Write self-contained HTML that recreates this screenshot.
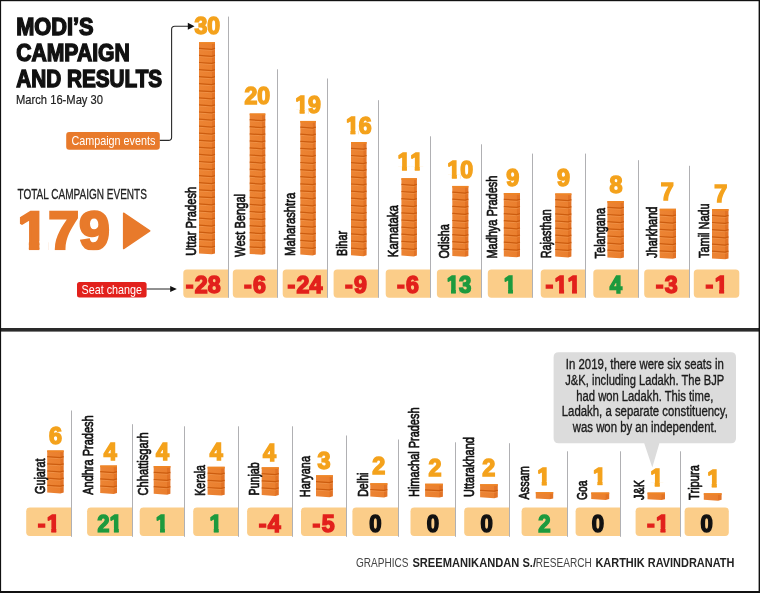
<!DOCTYPE html>
<html lang="en">
<head>
<meta charset="utf-8">
<title>Modi's campaign and results</title>
<style>
html,body{margin:0;padding:0;background:#fff;}
body{width:760px;height:593px;overflow:hidden;font-family:'Liberation Sans', Arial, Helvetica, sans-serif;}
svg{display:block;font-family:'Liberation Sans', Arial, Helvetica, sans-serif;}
text{white-space:pre;}
text.n{font-kerning:none;}
</style>
</head>
<body>
<svg width="760" height="593" viewBox="0 0 760 593">
<defs><linearGradient id="bg" x1="0" x2="1" y1="0" y2="0"><stop offset="0" stop-color="#ec8434"/><stop offset="0.78" stop-color="#ea7f2e"/><stop offset="0.82" stop-color="#e27224"/><stop offset="1" stop-color="#e27428"/></linearGradient></defs>
<rect x="0" y="0" width="760" height="593" fill="#ffffff"/>
<text font-size="24.0" fill="#111111" font-weight="bold" textLength="77.4" lengthAdjust="spacingAndGlyphs" stroke="#111111" stroke-width="1.4" stroke-linejoin="miter" stroke-miterlimit="2" x="16.2" y="34.5">MODI’S</text>
<text font-size="24.0" fill="#111111" font-weight="bold" textLength="113.6" lengthAdjust="spacingAndGlyphs" stroke="#111111" stroke-width="1.4" stroke-linejoin="miter" stroke-miterlimit="2" x="16.2" y="61.0">CAMPAIGN</text>
<text font-size="24.0" fill="#111111" font-weight="bold" textLength="146.0" lengthAdjust="spacingAndGlyphs" stroke="#111111" stroke-width="1.4" stroke-linejoin="miter" stroke-miterlimit="2" x="16.2" y="87.0">AND RESULTS</text>
<text font-size="12.6" fill="#222222" textLength="87.0" lengthAdjust="spacingAndGlyphs" stroke="#222222" stroke-width="0.2" stroke-linejoin="miter" stroke-miterlimit="2" x="16.0" y="104.3">March 16-May 30</text>
<rect x="66.2" y="132" width="93.6" height="17.8" rx="3" fill="#e87a2b"/>
<text font-size="12.8" fill="#ffffff" textLength="84.0" lengthAdjust="spacingAndGlyphs" x="71.4" y="145.0">Campaign events</text>
<path d="M159.8 140.4H168.4Q171.6 140.4 171.6 137.2V29.5Q171.6 26.3 174.8 26.3H189" fill="none" stroke="#2a2a2a" stroke-width="1.1"/>
<path d="M187.8 22.8L194.5 26.3L187.8 29.8Z" fill="#111111"/>
<text font-size="14.0" fill="#222222" textLength="129.4" lengthAdjust="spacingAndGlyphs" stroke="#222222" stroke-width="0.3" stroke-linejoin="miter" stroke-miterlimit="2" x="17.5" y="198.7">TOTAL CAMPAIGN EVENTS</text>
<clipPath id="k1"><rect x="13.4" y="195.9" width="100.4" height="45.39"/><rect x="28.88" y="241.19" width="10.50" height="9.01"/><rect x="48.20" y="241.19" width="30.80" height="9.01"/><rect x="79.00" y="241.19" width="30.80" height="9.01"/></clipPath>
<text font-size="53.0" fill="#e87a2b" font-weight="bold" textLength="92.4" lengthAdjust="spacingAndGlyphs" stroke="#e87a2b" stroke-width="2.6" stroke-linejoin="miter" stroke-miterlimit="2" x="17.4" y="248.9" clip-path="url(#k1)" class="n">179</text>
<path d="M123.6 213.2L149.8 230.8L123.6 248.6Z" fill="#e87a2b" stroke="#e87a2b" stroke-width="1.4" stroke-linejoin="round"/>
<rect x="77" y="282" width="69.6" height="15.6" rx="2.5" fill="#e2211c"/>
<text font-size="12.4" fill="#ffffff" textLength="60.4" lengthAdjust="spacingAndGlyphs" x="81.6" y="293.5">Seat change</text>
<path d="M146.6 289H171" fill="none" stroke="#222222" stroke-width="1"/>
<path d="M170.2 286.0L176.8 289L170.2 292.0Z" fill="#111111"/>
<path d="M186.9 269.4H228.2V297.7H186.9Q183.3 297.7 183.3 294.1V273.0Q183.3 269.4 186.9 269.4Z" fill="#fbcd89"/>
<rect x="228" y="16.6" width="1" height="281.2" fill="#b0b0b3"/>
<path d="M199.0 42.2H215.0V253.4L211.8 254.3L199.0 253.4Z" fill="url(#bg)"/>
<rect x="199.0" y="42.2" width="16.0" height="1.7" fill="#ef8626"/>
<path d="M199.0 49.5L211.8 50.4L215.0 49.5M199.0 56.5L211.8 57.4L215.0 56.5M199.0 63.6L211.8 64.5L215.0 63.6M199.0 70.7L211.8 71.6L215.0 70.7M199.0 77.8L211.8 78.7L215.0 77.8M199.0 84.8L211.8 85.7L215.0 84.8M199.0 91.9L211.8 92.8L215.0 91.9M199.0 99.0L211.8 99.9L215.0 99.0M199.0 106.0L211.8 106.9L215.0 106.0M199.0 113.1L211.8 114.0L215.0 113.1M199.0 120.2L211.8 121.1L215.0 120.2M199.0 127.2L211.8 128.1L215.0 127.2M199.0 134.3L211.8 135.2L215.0 134.3M199.0 141.4L211.8 142.3L215.0 141.4M199.0 148.4L211.8 149.3L215.0 148.4M199.0 155.5L211.8 156.4L215.0 155.5M199.0 162.6L211.8 163.5L215.0 162.6M199.0 169.7L211.8 170.6L215.0 169.7M199.0 176.7L211.8 177.6L215.0 176.7M199.0 183.8L211.8 184.7L215.0 183.8M199.0 190.9L211.8 191.8L215.0 190.9M199.0 197.9L211.8 198.8L215.0 197.9M199.0 205.0L211.8 205.9L215.0 205.0M199.0 212.1L211.8 213.0L215.0 212.1M199.0 219.2L211.8 220.1L215.0 219.2M199.0 226.2L211.8 227.1L215.0 226.2M199.0 233.3L211.8 234.2L215.0 233.3M199.0 240.4L211.8 241.3L215.0 240.4M199.0 247.4L211.8 248.3L215.0 247.4" fill="none" stroke="#f3a05a" stroke-width="0.9" opacity="0.55"/>
<path d="M199.0 48.4L211.8 49.3L215.0 48.4M199.0 55.4L211.8 56.3L215.0 55.4M199.0 62.5L211.8 63.4L215.0 62.5M199.0 69.6L211.8 70.5L215.0 69.6M199.0 76.7L211.8 77.6L215.0 76.7M199.0 83.7L211.8 84.6L215.0 83.7M199.0 90.8L211.8 91.7L215.0 90.8M199.0 97.9L211.8 98.8L215.0 97.9M199.0 104.9L211.8 105.8L215.0 104.9M199.0 112.0L211.8 112.9L215.0 112.0M199.0 119.1L211.8 120.0L215.0 119.1M199.0 126.1L211.8 127.0L215.0 126.1M199.0 133.2L211.8 134.1L215.0 133.2M199.0 140.3L211.8 141.2L215.0 140.3M199.0 147.3L211.8 148.2L215.0 147.3M199.0 154.4L211.8 155.3L215.0 154.4M199.0 161.5L211.8 162.4L215.0 161.5M199.0 168.6L211.8 169.5L215.0 168.6M199.0 175.6L211.8 176.5L215.0 175.6M199.0 182.7L211.8 183.6L215.0 182.7M199.0 189.8L211.8 190.7L215.0 189.8M199.0 196.8L211.8 197.7L215.0 196.8M199.0 203.9L211.8 204.8L215.0 203.9M199.0 211.0L211.8 211.9L215.0 211.0M199.0 218.1L211.8 219.0L215.0 218.1M199.0 225.1L211.8 226.0L215.0 225.1M199.0 232.2L211.8 233.1L215.0 232.2M199.0 239.3L211.8 240.2L215.0 239.3M199.0 246.3L211.8 247.2L215.0 246.3" fill="none" stroke="#c9590c" stroke-width="1.25" opacity="0.92"/>
<text font-size="23.2" fill="#f4a21c" font-weight="bold" textLength="25.7" lengthAdjust="spacingAndGlyphs" text-anchor="middle" stroke="#f4a21c" stroke-width="1.5" stroke-linejoin="miter" stroke-miterlimit="2" x="207.3" y="33.8" class="n">30</text>
<text font-size="14.0" fill="#111111" textLength="69.0" lengthAdjust="spacingAndGlyphs" stroke="#111111" stroke-width="0.7" stroke-linejoin="round" stroke-miterlimit="2" transform="translate(195.6 255.8) rotate(-90)">Uttar Pradesh</text>
<text x="185.7" y="293.1" font-size="23.2" fill="#e2211c" font-weight="bold" stroke="#e2211c" stroke-width="1.5" stroke-linejoin="miter" stroke-miterlimit="2" class="n">-<tspan dx="1.3">28</tspan></text>
<path d="M236.4 269.4H277.2V297.7H236.4Q232.8 297.7 232.8 294.1V273.0Q232.8 269.4 236.4 269.4Z" fill="#fbcd89"/>
<rect x="277" y="69.3" width="1" height="228.5" fill="#b0b0b3"/>
<path d="M249.7 113.5H265.3V253.9L262.2 254.8L249.7 253.9Z" fill="url(#bg)"/>
<rect x="249.7" y="113.5" width="15.6" height="1.7" fill="#ef8626"/>
<path d="M249.7 120.8L262.2 121.7L265.3 120.8M249.7 127.8L262.2 128.7L265.3 127.8M249.7 134.9L262.2 135.8L265.3 134.9M249.7 142.0L262.2 142.9L265.3 142.0M249.7 149.0L262.2 149.9L265.3 149.0M249.7 156.1L262.2 157.0L265.3 156.1M249.7 163.2L262.2 164.1L265.3 163.2M249.7 170.2L262.2 171.1L265.3 170.2M249.7 177.3L262.2 178.2L265.3 177.3M249.7 184.3L262.2 185.2L265.3 184.3M249.7 191.4L262.2 192.3L265.3 191.4M249.7 198.5L262.2 199.4L265.3 198.5M249.7 205.5L262.2 206.4L265.3 205.5M249.7 212.6L262.2 213.5L265.3 212.6M249.7 219.7L262.2 220.6L265.3 219.7M249.7 226.7L262.2 227.6L265.3 226.7M249.7 233.8L262.2 234.7L265.3 233.8M249.7 240.9L262.2 241.8L265.3 240.9M249.7 247.9L262.2 248.8L265.3 247.9" fill="none" stroke="#f3a05a" stroke-width="0.9" opacity="0.55"/>
<path d="M249.7 119.7L262.2 120.6L265.3 119.7M249.7 126.7L262.2 127.6L265.3 126.7M249.7 133.8L262.2 134.7L265.3 133.8M249.7 140.9L262.2 141.8L265.3 140.9M249.7 147.9L262.2 148.8L265.3 147.9M249.7 155.0L262.2 155.9L265.3 155.0M249.7 162.1L262.2 163.0L265.3 162.1M249.7 169.1L262.2 170.0L265.3 169.1M249.7 176.2L262.2 177.1L265.3 176.2M249.7 183.2L262.2 184.2L265.3 183.2M249.7 190.3L262.2 191.2L265.3 190.3M249.7 197.4L262.2 198.3L265.3 197.4M249.7 204.4L262.2 205.3L265.3 204.4M249.7 211.5L262.2 212.4L265.3 211.5M249.7 218.6L262.2 219.5L265.3 218.6M249.7 225.6L262.2 226.5L265.3 225.6M249.7 232.7L262.2 233.6L265.3 232.7M249.7 239.8L262.2 240.7L265.3 239.8M249.7 246.8L262.2 247.7L265.3 246.8" fill="none" stroke="#c9590c" stroke-width="1.25" opacity="0.92"/>
<text font-size="23.2" fill="#f4a21c" font-weight="bold" textLength="25.7" lengthAdjust="spacingAndGlyphs" text-anchor="middle" stroke="#f4a21c" stroke-width="1.5" stroke-linejoin="miter" stroke-miterlimit="2" x="257.3" y="104.2" class="n">20</text>
<text font-size="14.0" fill="#111111" textLength="63.0" lengthAdjust="spacingAndGlyphs" stroke="#111111" stroke-width="0.7" stroke-linejoin="round" stroke-miterlimit="2" transform="translate(244.7 256.9) rotate(-90)">West Bengal</text>
<text x="244.0" y="293.1" font-size="23.2" fill="#e2211c" font-weight="bold" stroke="#e2211c" stroke-width="1.5" stroke-linejoin="miter" stroke-miterlimit="2" class="n">-<tspan dx="1.3">6</tspan></text>
<path d="M286.3 269.4H327.2V297.7H286.3Q282.7 297.7 282.7 294.1V273.0Q282.7 269.4 286.3 269.4Z" fill="#fbcd89"/>
<rect x="327" y="78.5" width="1" height="219.3" fill="#b0b0b3"/>
<path d="M300.3 120.9H315.8V254.6L312.7 255.5L300.3 254.6Z" fill="url(#bg)"/>
<rect x="300.3" y="120.9" width="15.5" height="1.7" fill="#ef8626"/>
<path d="M300.3 128.2L312.7 129.1L315.8 128.2M300.3 135.3L312.7 136.2L315.8 135.3M300.3 142.4L312.7 143.3L315.8 142.4M300.3 149.4L312.7 150.3L315.8 149.4M300.3 156.5L312.7 157.4L315.8 156.5M300.3 163.6L312.7 164.5L315.8 163.6M300.3 170.7L312.7 171.6L315.8 170.7M300.3 177.8L312.7 178.7L315.8 177.8M300.3 184.9L312.7 185.8L315.8 184.9M300.3 191.9L312.7 192.8L315.8 191.9M300.3 199.0L312.7 199.9L315.8 199.0M300.3 206.1L312.7 207.0L315.8 206.1M300.3 213.2L312.7 214.1L315.8 213.2M300.3 220.3L312.7 221.2L315.8 220.3M300.3 227.4L312.7 228.3L315.8 227.4M300.3 234.4L312.7 235.3L315.8 234.4M300.3 241.5L312.7 242.4L315.8 241.5M300.3 248.6L312.7 249.5L315.8 248.6" fill="none" stroke="#f3a05a" stroke-width="0.9" opacity="0.55"/>
<path d="M300.3 127.1L312.7 128.0L315.8 127.1M300.3 134.2L312.7 135.1L315.8 134.2M300.3 141.3L312.7 142.2L315.8 141.3M300.3 148.3L312.7 149.2L315.8 148.3M300.3 155.4L312.7 156.3L315.8 155.4M300.3 162.5L312.7 163.4L315.8 162.5M300.3 169.6L312.7 170.5L315.8 169.6M300.3 176.7L312.7 177.6L315.8 176.7M300.3 183.8L312.7 184.7L315.8 183.8M300.3 190.8L312.7 191.7L315.8 190.8M300.3 197.9L312.7 198.8L315.8 197.9M300.3 205.0L312.7 205.9L315.8 205.0M300.3 212.1L312.7 213.0L315.8 212.1M300.3 219.2L312.7 220.1L315.8 219.2M300.3 226.3L312.7 227.2L315.8 226.3M300.3 233.3L312.7 234.2L315.8 233.3M300.3 240.4L312.7 241.3L315.8 240.4M300.3 247.5L312.7 248.4L315.8 247.5" fill="none" stroke="#c9590c" stroke-width="1.25" opacity="0.92"/>
<clipPath id="k2"><rect x="291.2" y="90.0" width="33.7" height="19.18"/><rect x="299.66" y="109.08" width="4.96" height="4.87"/><rect x="308.00" y="109.08" width="12.83" height="4.87"/></clipPath>
<text font-size="23.2" fill="#f4a21c" font-weight="bold" textLength="25.7" lengthAdjust="spacingAndGlyphs" text-anchor="middle" stroke="#f4a21c" stroke-width="1.5" stroke-linejoin="miter" stroke-miterlimit="2" x="308.0" y="113.2" clip-path="url(#k2)" class="n">19</text>
<text font-size="14.0" fill="#111111" textLength="63.2" lengthAdjust="spacingAndGlyphs" stroke="#111111" stroke-width="0.7" stroke-linejoin="round" stroke-miterlimit="2" transform="translate(295.3 256.0) rotate(-90)">Maharashtra</text>
<text x="287.5" y="293.1" font-size="23.2" fill="#e2211c" font-weight="bold" stroke="#e2211c" stroke-width="1.5" stroke-linejoin="miter" stroke-miterlimit="2" class="n">-<tspan dx="1.3">24</tspan></text>
<path d="M337.2 269.4H378.2V297.7H337.2Q333.6 297.7 333.6 294.1V273.0Q333.6 269.4 337.2 269.4Z" fill="#fbcd89"/>
<rect x="378" y="100.2" width="1" height="197.6" fill="#b0b0b3"/>
<path d="M351.0 142.1H366.6V255.3L363.5 256.2L351.0 255.3Z" fill="url(#bg)"/>
<rect x="351.0" y="142.1" width="15.6" height="1.7" fill="#ef8626"/>
<path d="M351.0 149.4L363.5 150.3L366.6 149.4M351.0 156.6L363.5 157.5L366.6 156.6M351.0 163.7L363.5 164.6L366.6 163.7M351.0 170.8L363.5 171.7L366.6 170.8M351.0 178.0L363.5 178.9L366.6 178.0M351.0 185.1L363.5 186.0L366.6 185.1M351.0 192.2L363.5 193.1L366.6 192.2M351.0 199.3L363.5 200.2L366.6 199.3M351.0 206.5L363.5 207.4L366.6 206.5M351.0 213.6L363.5 214.5L366.6 213.6M351.0 220.7L363.5 221.6L366.6 220.7M351.0 227.9L363.5 228.8L366.6 227.9M351.0 235.0L363.5 235.9L366.6 235.0M351.0 242.1L363.5 243.0L366.6 242.1M351.0 249.3L363.5 250.2L366.6 249.3" fill="none" stroke="#f3a05a" stroke-width="0.9" opacity="0.55"/>
<path d="M351.0 148.3L363.5 149.2L366.6 148.3M351.0 155.5L363.5 156.4L366.6 155.5M351.0 162.6L363.5 163.5L366.6 162.6M351.0 169.7L363.5 170.6L366.6 169.7M351.0 176.9L363.5 177.8L366.6 176.9M351.0 184.0L363.5 184.9L366.6 184.0M351.0 191.1L363.5 192.0L366.6 191.1M351.0 198.2L363.5 199.1L366.6 198.2M351.0 205.4L363.5 206.3L366.6 205.4M351.0 212.5L363.5 213.4L366.6 212.5M351.0 219.6L363.5 220.5L366.6 219.6M351.0 226.8L363.5 227.7L366.6 226.8M351.0 233.9L363.5 234.8L366.6 233.9M351.0 241.0L363.5 241.9L366.6 241.0M351.0 248.2L363.5 249.1L366.6 248.2" fill="none" stroke="#c9590c" stroke-width="1.25" opacity="0.92"/>
<clipPath id="k3"><rect x="342.0" y="110.5" width="33.7" height="19.18"/><rect x="350.46" y="129.58" width="4.96" height="4.87"/><rect x="358.80" y="129.58" width="12.83" height="4.87"/></clipPath>
<text font-size="23.2" fill="#f4a21c" font-weight="bold" textLength="25.7" lengthAdjust="spacingAndGlyphs" text-anchor="middle" stroke="#f4a21c" stroke-width="1.5" stroke-linejoin="miter" stroke-miterlimit="2" x="358.8" y="133.7" clip-path="url(#k3)" class="n">16</text>
<text font-size="14.0" fill="#111111" textLength="25.0" lengthAdjust="spacingAndGlyphs" stroke="#111111" stroke-width="0.7" stroke-linejoin="round" stroke-miterlimit="2" transform="translate(347.0 256.0) rotate(-90)">Bihar</text>
<text x="344.9" y="293.1" font-size="23.2" fill="#e2211c" font-weight="bold" stroke="#e2211c" stroke-width="1.5" stroke-linejoin="miter" stroke-miterlimit="2" class="n">-<tspan dx="1.3">9</tspan></text>
<path d="M389.3 269.4H430.2V297.7H389.3Q385.7 297.7 385.7 294.1V273.0Q385.7 269.4 389.3 269.4Z" fill="#fbcd89"/>
<rect x="430" y="136.3" width="1" height="161.5" fill="#b0b0b3"/>
<path d="M401.4 178.2H416.9V255.5L413.8 256.4L401.4 255.5Z" fill="url(#bg)"/>
<rect x="401.4" y="178.2" width="15.5" height="1.7" fill="#ef8626"/>
<path d="M401.4 185.5L413.8 186.4L416.9 185.5M401.4 192.6L413.8 193.5L416.9 192.6M401.4 199.7L413.8 200.6L416.9 199.7M401.4 206.8L413.8 207.7L416.9 206.8M401.4 213.9L413.8 214.8L416.9 213.9M401.4 221.1L413.8 222.0L416.9 221.1M401.4 228.2L413.8 229.1L416.9 228.2M401.4 235.3L413.8 236.2L416.9 235.3M401.4 242.4L413.8 243.3L416.9 242.4M401.4 249.5L413.8 250.4L416.9 249.5" fill="none" stroke="#f3a05a" stroke-width="0.9" opacity="0.55"/>
<path d="M401.4 184.4L413.8 185.3L416.9 184.4M401.4 191.5L413.8 192.4L416.9 191.5M401.4 198.6L413.8 199.5L416.9 198.6M401.4 205.7L413.8 206.6L416.9 205.7M401.4 212.8L413.8 213.7L416.9 212.8M401.4 220.0L413.8 220.9L416.9 220.0M401.4 227.1L413.8 228.0L416.9 227.1M401.4 234.2L413.8 235.1L416.9 234.2M401.4 241.3L413.8 242.2L416.9 241.3M401.4 248.4L413.8 249.3L416.9 248.4" fill="none" stroke="#c9590c" stroke-width="1.25" opacity="0.92"/>
<clipPath id="k4"><rect x="393.5" y="147.0" width="33.7" height="19.18"/><rect x="401.96" y="166.08" width="4.96" height="4.87"/><rect x="414.78" y="166.08" width="4.96" height="4.87"/></clipPath>
<text font-size="23.2" fill="#f4a21c" font-weight="bold" textLength="25.7" lengthAdjust="spacingAndGlyphs" text-anchor="middle" stroke="#f4a21c" stroke-width="1.5" stroke-linejoin="miter" stroke-miterlimit="2" x="410.3" y="170.2" clip-path="url(#k4)" class="n">11</text>
<text font-size="14.0" fill="#111111" textLength="52.0" lengthAdjust="spacingAndGlyphs" stroke="#111111" stroke-width="0.7" stroke-linejoin="round" stroke-miterlimit="2" transform="translate(397.9 257.2) rotate(-90)">Karnataka</text>
<text x="397.0" y="293.1" font-size="23.2" fill="#e2211c" font-weight="bold" stroke="#e2211c" stroke-width="1.5" stroke-linejoin="miter" stroke-miterlimit="2" class="n">-<tspan dx="1.3">6</tspan></text>
<path d="M440.5 269.4H481.2V297.7H440.5Q436.9 297.7 436.9 294.1V273.0Q436.9 269.4 440.5 269.4Z" fill="#fbcd89"/>
<rect x="481" y="144.3" width="1" height="153.5" fill="#b0b0b3"/>
<path d="M452.3 185.9H468.4V255.9L465.2 256.8L452.3 255.9Z" fill="url(#bg)"/>
<rect x="452.3" y="185.9" width="16.1" height="1.7" fill="#ef8626"/>
<path d="M452.3 193.2L465.2 194.1L468.4 193.2M452.3 200.3L465.2 201.2L468.4 200.3M452.3 207.4L465.2 208.3L468.4 207.4M452.3 214.5L465.2 215.4L468.4 214.5M452.3 221.6L465.2 222.5L468.4 221.6M452.3 228.6L465.2 229.5L468.4 228.6M452.3 235.7L465.2 236.6L468.4 235.7M452.3 242.8L465.2 243.7L468.4 242.8M452.3 249.9L465.2 250.8L468.4 249.9" fill="none" stroke="#f3a05a" stroke-width="0.9" opacity="0.55"/>
<path d="M452.3 192.1L465.2 193.0L468.4 192.1M452.3 199.2L465.2 200.1L468.4 199.2M452.3 206.3L465.2 207.2L468.4 206.3M452.3 213.4L465.2 214.3L468.4 213.4M452.3 220.5L465.2 221.4L468.4 220.5M452.3 227.5L465.2 228.4L468.4 227.5M452.3 234.6L465.2 235.5L468.4 234.6M452.3 241.7L465.2 242.6L468.4 241.7M452.3 248.8L465.2 249.7L468.4 248.8" fill="none" stroke="#c9590c" stroke-width="1.25" opacity="0.92"/>
<clipPath id="k5"><rect x="443.4" y="155.0" width="33.7" height="19.18"/><rect x="451.86" y="174.08" width="4.96" height="4.87"/><rect x="460.20" y="174.08" width="12.83" height="4.87"/></clipPath>
<text font-size="23.2" fill="#f4a21c" font-weight="bold" textLength="25.7" lengthAdjust="spacingAndGlyphs" text-anchor="middle" stroke="#f4a21c" stroke-width="1.5" stroke-linejoin="miter" stroke-miterlimit="2" x="460.2" y="178.2" clip-path="url(#k5)" class="n">10</text>
<text font-size="14.0" fill="#111111" textLength="34.4" lengthAdjust="spacingAndGlyphs" stroke="#111111" stroke-width="0.7" stroke-linejoin="round" stroke-miterlimit="2" transform="translate(449.1 258.6) rotate(-90)">Odisha</text>
<clipPath id="k6"><rect x="442.7" y="269.9" width="32.6" height="19.18"/><rect x="451.01" y="288.98" width="4.84" height="4.87"/><rect x="459.05" y="288.98" width="12.31" height="4.87"/></clipPath>
<text font-size="23.2" fill="#1d9a3e" font-weight="bold" textLength="24.6" lengthAdjust="spacingAndGlyphs" text-anchor="middle" stroke="#1d9a3e" stroke-width="1.5" stroke-linejoin="miter" stroke-miterlimit="2" x="459.0" y="293.1" clip-path="url(#k6)" class="n">13</text>
<path d="M491.4 269.4H532.2V297.7H491.4Q487.8 297.7 487.8 294.1V273.0Q487.8 269.4 491.4 269.4Z" fill="#fbcd89"/>
<rect x="532" y="153.6" width="1" height="144.2" fill="#b0b0b3"/>
<path d="M503.8 193.1H520.0V256.4L516.8 257.3L503.8 256.4Z" fill="url(#bg)"/>
<rect x="503.8" y="193.1" width="16.2" height="1.7" fill="#ef8626"/>
<path d="M503.8 200.4L516.8 201.3L520.0 200.4M503.8 207.6L516.8 208.5L520.0 207.6M503.8 214.7L516.8 215.6L520.0 214.7M503.8 221.8L516.8 222.7L520.0 221.8M503.8 229.0L516.8 229.9L520.0 229.0M503.8 236.1L516.8 237.0L520.0 236.1M503.8 243.2L516.8 244.1L520.0 243.2M503.8 250.4L516.8 251.3L520.0 250.4" fill="none" stroke="#f3a05a" stroke-width="0.9" opacity="0.55"/>
<path d="M503.8 199.3L516.8 200.2L520.0 199.3M503.8 206.5L516.8 207.4L520.0 206.5M503.8 213.6L516.8 214.5L520.0 213.6M503.8 220.7L516.8 221.6L520.0 220.7M503.8 227.9L516.8 228.8L520.0 227.9M503.8 235.0L516.8 235.9L520.0 235.0M503.8 242.1L516.8 243.0L520.0 242.1M503.8 249.3L516.8 250.2L520.0 249.3" fill="none" stroke="#c9590c" stroke-width="1.25" opacity="0.92"/>
<text font-size="23.2" fill="#f4a21c" font-weight="bold" textLength="13.0" lengthAdjust="spacingAndGlyphs" text-anchor="middle" stroke="#f4a21c" stroke-width="1.5" stroke-linejoin="miter" stroke-miterlimit="2" x="512.7" y="186.4" class="n">9</text>
<text font-size="14.0" fill="#111111" textLength="83.0" lengthAdjust="spacingAndGlyphs" stroke="#111111" stroke-width="0.7" stroke-linejoin="round" stroke-miterlimit="2" transform="translate(496.8 258.6) rotate(-90)">Madhya Pradesh</text>
<clipPath id="k7"><rect x="499.8" y="269.9" width="20.3" height="19.18"/><rect x="508.11" y="288.98" width="4.84" height="4.87"/></clipPath>
<text font-size="23.2" fill="#1d9a3e" font-weight="bold" textLength="12.3" lengthAdjust="spacingAndGlyphs" text-anchor="middle" stroke="#1d9a3e" stroke-width="1.5" stroke-linejoin="miter" stroke-miterlimit="2" x="510.0" y="293.1" clip-path="url(#k7)" class="n">1</text>
<path d="M544.3 269.4H585.2V297.7H544.3Q540.7 297.7 540.7 294.1V273.0Q540.7 269.4 544.3 269.4Z" fill="#fbcd89"/>
<rect x="585" y="153.6" width="1" height="144.2" fill="#b0b0b3"/>
<path d="M555.2 193.4H571.4V256.6L568.2 257.5L555.2 256.6Z" fill="url(#bg)"/>
<rect x="555.2" y="193.4" width="16.2" height="1.7" fill="#ef8626"/>
<path d="M555.2 200.7L568.2 201.6L571.4 200.7M555.2 207.8L568.2 208.7L571.4 207.8M555.2 215.0L568.2 215.9L571.4 215.0M555.2 222.1L568.2 223.0L571.4 222.1M555.2 229.2L568.2 230.1L571.4 229.2M555.2 236.3L568.2 237.2L571.4 236.3M555.2 243.5L568.2 244.4L571.4 243.5M555.2 250.6L568.2 251.5L571.4 250.6" fill="none" stroke="#f3a05a" stroke-width="0.9" opacity="0.55"/>
<path d="M555.2 199.6L568.2 200.5L571.4 199.6M555.2 206.7L568.2 207.6L571.4 206.7M555.2 213.9L568.2 214.8L571.4 213.9M555.2 221.0L568.2 221.9L571.4 221.0M555.2 228.1L568.2 229.0L571.4 228.1M555.2 235.2L568.2 236.1L571.4 235.2M555.2 242.4L568.2 243.3L571.4 242.4M555.2 249.5L568.2 250.4L571.4 249.5" fill="none" stroke="#c9590c" stroke-width="1.25" opacity="0.92"/>
<text font-size="23.2" fill="#f4a21c" font-weight="bold" textLength="13.0" lengthAdjust="spacingAndGlyphs" text-anchor="middle" stroke="#f4a21c" stroke-width="1.5" stroke-linejoin="miter" stroke-miterlimit="2" x="563.5" y="186.4" class="n">9</text>
<text font-size="14.0" fill="#111111" textLength="49.0" lengthAdjust="spacingAndGlyphs" stroke="#111111" stroke-width="0.7" stroke-linejoin="round" stroke-miterlimit="2" transform="translate(550.6 258.3) rotate(-90)">Rajasthan</text>
<clipPath id="k8"><rect x="541.5" y="269.9" width="42.8" height="19.18"/><rect x="545.54" y="288.98" width="7.73" height="4.87"/><rect x="559.08" y="288.98" width="4.98" height="4.87"/><rect x="571.98" y="288.98" width="4.98" height="4.87"/></clipPath>
<text x="545.5" y="293.1" font-size="23.2" fill="#e2211c" font-weight="bold" stroke="#e2211c" stroke-width="1.5" stroke-linejoin="miter" stroke-miterlimit="2" class="n" clip-path="url(#k8)">-<tspan dx="1.3">11</tspan></text>
<path d="M596.9 269.4H638.2V297.7H596.9Q593.3 297.7 593.3 294.1V273.0Q593.3 269.4 596.9 269.4Z" fill="#fbcd89"/>
<rect x="638" y="160.2" width="1" height="137.6" fill="#b0b0b3"/>
<path d="M607.4 201.1H623.9V257.4L620.6 258.3L607.4 257.4Z" fill="url(#bg)"/>
<rect x="607.4" y="201.1" width="16.5" height="1.7" fill="#ef8626"/>
<path d="M607.4 208.4L620.6 209.3L623.9 208.4M607.4 215.6L620.6 216.5L623.9 215.6M607.4 222.8L620.6 223.7L623.9 222.8M607.4 229.9L620.6 230.8L623.9 229.9M607.4 237.1L620.6 238.0L623.9 237.1M607.4 244.2L620.6 245.1L623.9 244.2M607.4 251.3L620.6 252.2L623.9 251.3" fill="none" stroke="#f3a05a" stroke-width="0.9" opacity="0.55"/>
<path d="M607.4 207.3L620.6 208.2L623.9 207.3M607.4 214.5L620.6 215.4L623.9 214.5M607.4 221.7L620.6 222.6L623.9 221.7M607.4 228.8L620.6 229.7L623.9 228.8M607.4 236.0L620.6 236.9L623.9 236.0M607.4 243.1L620.6 244.0L623.9 243.1M607.4 250.2L620.6 251.2L623.9 250.2" fill="none" stroke="#c9590c" stroke-width="1.25" opacity="0.92"/>
<text font-size="23.2" fill="#f4a21c" font-weight="bold" textLength="13.0" lengthAdjust="spacingAndGlyphs" text-anchor="middle" stroke="#f4a21c" stroke-width="1.5" stroke-linejoin="miter" stroke-miterlimit="2" x="616.0" y="193.4" class="n">8</text>
<text font-size="14.0" fill="#111111" textLength="50.4" lengthAdjust="spacingAndGlyphs" stroke="#111111" stroke-width="0.7" stroke-linejoin="round" stroke-miterlimit="2" transform="translate(605.1 258.4) rotate(-90)">Telangana</text>
<text font-size="23.2" fill="#1d9a3e" font-weight="bold" textLength="12.3" lengthAdjust="spacingAndGlyphs" text-anchor="middle" stroke="#1d9a3e" stroke-width="1.5" stroke-linejoin="miter" stroke-miterlimit="2" x="615.8" y="293.1" class="n">4</text>
<path d="M647.8 269.4H689.2V297.7H647.8Q644.2 297.7 644.2 294.1V273.0Q644.2 269.4 647.8 269.4Z" fill="#fbcd89"/>
<rect x="689" y="165.8" width="1" height="132.0" fill="#b0b0b3"/>
<path d="M659.7 208.8H676.0V257.9L672.7 258.8L659.7 257.9Z" fill="url(#bg)"/>
<rect x="659.7" y="208.8" width="16.3" height="1.7" fill="#ef8626"/>
<path d="M659.7 216.1L672.7 217.0L676.0 216.1M659.7 223.3L672.7 224.2L676.0 223.3M659.7 230.4L672.7 231.3L676.0 230.4M659.7 237.6L672.7 238.5L676.0 237.6M659.7 244.7L672.7 245.6L676.0 244.7M659.7 251.9L672.7 252.8L676.0 251.9" fill="none" stroke="#f3a05a" stroke-width="0.9" opacity="0.55"/>
<path d="M659.7 215.0L672.7 215.9L676.0 215.0M659.7 222.2L672.7 223.1L676.0 222.2M659.7 229.3L672.7 230.2L676.0 229.3M659.7 236.5L672.7 237.4L676.0 236.5M659.7 243.6L672.7 244.5L676.0 243.6M659.7 250.8L672.7 251.7L676.0 250.8" fill="none" stroke="#c9590c" stroke-width="1.25" opacity="0.92"/>
<text font-size="23.2" fill="#f4a21c" font-weight="bold" textLength="13.0" lengthAdjust="spacingAndGlyphs" text-anchor="middle" stroke="#f4a21c" stroke-width="1.5" stroke-linejoin="miter" stroke-miterlimit="2" x="667.3" y="200.2" class="n">7</text>
<text font-size="14.0" fill="#111111" textLength="51.3" lengthAdjust="spacingAndGlyphs" stroke="#111111" stroke-width="0.7" stroke-linejoin="round" stroke-miterlimit="2" transform="translate(656.8 257.9) rotate(-90)">Jharkhand</text>
<text x="655.7" y="293.1" font-size="23.2" fill="#e2211c" font-weight="bold" stroke="#e2211c" stroke-width="1.5" stroke-linejoin="miter" stroke-miterlimit="2" class="n">-<tspan dx="1.3">3</tspan></text>
<rect x="693.8" y="269.4" width="45.5" height="28.3" rx="3.6" fill="#fbcd89"/>
<path d="M712.0 209.1H728.5V258.4L725.2 259.3L712.0 258.4Z" fill="url(#bg)"/>
<rect x="712.0" y="209.1" width="16.5" height="1.7" fill="#ef8626"/>
<path d="M712.0 216.5L725.2 217.4L728.5 216.5M712.0 223.6L725.2 224.5L728.5 223.6M712.0 230.8L725.2 231.7L728.5 230.8M712.0 238.0L725.2 238.9L728.5 238.0M712.0 245.2L725.2 246.1L728.5 245.2M712.0 252.3L725.2 253.2L728.5 252.3" fill="none" stroke="#f3a05a" stroke-width="0.9" opacity="0.55"/>
<path d="M712.0 215.4L725.2 216.3L728.5 215.4M712.0 222.5L725.2 223.4L728.5 222.5M712.0 229.7L725.2 230.6L728.5 229.7M712.0 236.9L725.2 237.8L728.5 236.9M712.0 244.1L725.2 245.0L728.5 244.1M712.0 251.2L725.2 252.1L728.5 251.2" fill="none" stroke="#c9590c" stroke-width="1.25" opacity="0.92"/>
<text font-size="23.2" fill="#f4a21c" font-weight="bold" textLength="13.0" lengthAdjust="spacingAndGlyphs" text-anchor="middle" stroke="#f4a21c" stroke-width="1.5" stroke-linejoin="miter" stroke-miterlimit="2" x="720.7" y="201.8" class="n">7</text>
<text font-size="14.0" fill="#111111" textLength="54.5" lengthAdjust="spacingAndGlyphs" stroke="#111111" stroke-width="0.7" stroke-linejoin="round" stroke-miterlimit="2" transform="translate(709.3 257.9) rotate(-90)">Tamil Nadu</text>
<clipPath id="k9"><rect x="701.6" y="269.9" width="29.9" height="19.18"/><rect x="705.59" y="288.98" width="7.73" height="4.87"/><rect x="719.13" y="288.98" width="4.98" height="4.87"/></clipPath>
<text x="705.6" y="293.1" font-size="23.2" fill="#e2211c" font-weight="bold" stroke="#e2211c" stroke-width="1.5" stroke-linejoin="miter" stroke-miterlimit="2" class="n" clip-path="url(#k9)">-<tspan dx="1.3">1</tspan></text>
<path d="M558.6 352.2H731Q736 352.2 736 357.2V438.3Q736 443.3 731 443.3H659.4L652.3 467.4L644.2 443.3H558.6Q553.6 443.3 553.6 438.3V357.2Q553.6 352.2 558.6 352.2Z" fill="#dcdcdc"/>
<path d="M29.8 507.6H71.2V535.9H29.8Q26.2 535.9 26.2 532.3V511.2Q26.2 507.6 29.8 507.6Z" fill="#fbcd89"/>
<rect x="71" y="410.5" width="1" height="126.3" fill="#b0b0b3"/>
<path d="M47.2 450.4H63.7V492.5L60.4 493.4L47.2 492.5Z" fill="url(#bg)"/>
<rect x="47.2" y="450.4" width="16.5" height="1.7" fill="#ef8626"/>
<path d="M47.2 457.8L60.4 458.7L63.7 457.8M47.2 464.9L60.4 465.8L63.7 464.9M47.2 472.1L60.4 473.0L63.7 472.1M47.2 479.3L60.4 480.2L63.7 479.3M47.2 486.4L60.4 487.3L63.7 486.4" fill="none" stroke="#f3a05a" stroke-width="0.9" opacity="0.55"/>
<path d="M47.2 456.7L60.4 457.6L63.7 456.7M47.2 463.8L60.4 464.7L63.7 463.8M47.2 471.0L60.4 471.9L63.7 471.0M47.2 478.2L60.4 479.1L63.7 478.2M47.2 485.3L60.4 486.2L63.7 485.3" fill="none" stroke="#c9590c" stroke-width="1.25" opacity="0.92"/>
<text font-size="23.2" fill="#f4a21c" font-weight="bold" textLength="13.0" lengthAdjust="spacingAndGlyphs" text-anchor="middle" stroke="#f4a21c" stroke-width="1.5" stroke-linejoin="miter" stroke-miterlimit="2" x="55.5" y="443.9" class="n">6</text>
<text font-size="14.0" fill="#111111" textLength="35.5" lengthAdjust="spacingAndGlyphs" stroke="#111111" stroke-width="0.7" stroke-linejoin="round" stroke-miterlimit="2" transform="translate(44.6 494.0) rotate(-90)">Gujarat</text>
<clipPath id="k10"><rect x="33.7" y="508.8" width="29.9" height="19.18"/><rect x="37.74" y="527.88" width="7.73" height="4.87"/><rect x="51.28" y="527.88" width="4.98" height="4.87"/></clipPath>
<text x="37.7" y="532.0" font-size="23.2" fill="#e2211c" font-weight="bold" stroke="#e2211c" stroke-width="1.5" stroke-linejoin="miter" stroke-miterlimit="2" class="n" clip-path="url(#k10)">-<tspan dx="1.3">1</tspan></text>
<path d="M90.7 507.6H132.2V535.9H90.7Q87.1 535.9 87.1 532.3V511.2Q87.1 507.6 90.7 507.6Z" fill="#fbcd89"/>
<rect x="132" y="424.2" width="1" height="112.6" fill="#b0b0b3"/>
<path d="M100.2 465.5H117.0V493.1L113.6 494.0L100.2 493.1Z" fill="url(#bg)"/>
<rect x="100.2" y="465.5" width="16.8" height="1.7" fill="#ef8626"/>
<path d="M100.2 472.8L113.6 473.7L117.0 472.8M100.2 480.0L113.6 480.9L117.0 480.0M100.2 487.1L113.6 488.0L117.0 487.1" fill="none" stroke="#f3a05a" stroke-width="0.9" opacity="0.55"/>
<path d="M100.2 471.7L113.6 472.6L117.0 471.7M100.2 478.9L113.6 479.8L117.0 478.9M100.2 486.0L113.6 486.9L117.0 486.0" fill="none" stroke="#c9590c" stroke-width="1.25" opacity="0.92"/>
<text font-size="23.2" fill="#f4a21c" font-weight="bold" textLength="13.0" lengthAdjust="spacingAndGlyphs" text-anchor="middle" stroke="#f4a21c" stroke-width="1.5" stroke-linejoin="miter" stroke-miterlimit="2" x="110.2" y="459.7" class="n">4</text>
<text font-size="14.0" fill="#111111" textLength="79.4" lengthAdjust="spacingAndGlyphs" stroke="#111111" stroke-width="0.7" stroke-linejoin="round" stroke-miterlimit="2" transform="translate(92.5 494.8) rotate(-90)">Andhra Pradesh</text>
<clipPath id="k11"><rect x="93.3" y="508.8" width="32.6" height="19.18"/><rect x="97.34" y="527.88" width="12.31" height="4.87"/><rect x="113.92" y="527.88" width="4.84" height="4.87"/></clipPath>
<text font-size="23.2" fill="#1d9a3e" font-weight="bold" textLength="24.6" lengthAdjust="spacingAndGlyphs" text-anchor="middle" stroke="#1d9a3e" stroke-width="1.5" stroke-linejoin="miter" stroke-miterlimit="2" x="109.6" y="532.0" clip-path="url(#k11)" class="n">21</text>
<path d="M143.3 507.6H184.2V535.9H143.3Q139.7 535.9 139.7 532.3V511.2Q139.7 507.6 143.3 507.6Z" fill="#fbcd89"/>
<rect x="184" y="426.3" width="1" height="110.5" fill="#b0b0b3"/>
<path d="M153.7 466.0H170.4V493.8L167.1 494.7L153.7 493.8Z" fill="url(#bg)"/>
<rect x="153.7" y="466.0" width="16.7" height="1.7" fill="#ef8626"/>
<path d="M153.7 473.4L167.1 474.3L170.4 473.4M153.7 480.6L167.1 481.5L170.4 480.6M153.7 487.7L167.1 488.6L170.4 487.7" fill="none" stroke="#f3a05a" stroke-width="0.9" opacity="0.55"/>
<path d="M153.7 472.3L167.1 473.2L170.4 472.3M153.7 479.5L167.1 480.4L170.4 479.5M153.7 486.6L167.1 487.5L170.4 486.6" fill="none" stroke="#c9590c" stroke-width="1.25" opacity="0.92"/>
<text font-size="23.2" fill="#f4a21c" font-weight="bold" textLength="13.0" lengthAdjust="spacingAndGlyphs" text-anchor="middle" stroke="#f4a21c" stroke-width="1.5" stroke-linejoin="miter" stroke-miterlimit="2" x="162.4" y="459.7" class="n">4</text>
<text font-size="14.0" fill="#111111" textLength="63.0" lengthAdjust="spacingAndGlyphs" stroke="#111111" stroke-width="0.7" stroke-linejoin="round" stroke-miterlimit="2" transform="translate(147.6 495.4) rotate(-90)">Chhattisgarh</text>
<clipPath id="k12"><rect x="151.8" y="508.8" width="20.3" height="19.18"/><rect x="160.06" y="527.88" width="4.84" height="4.87"/></clipPath>
<text font-size="23.2" fill="#1d9a3e" font-weight="bold" textLength="12.3" lengthAdjust="spacingAndGlyphs" text-anchor="middle" stroke="#1d9a3e" stroke-width="1.5" stroke-linejoin="miter" stroke-miterlimit="2" x="161.9" y="532.0" clip-path="url(#k12)" class="n">1</text>
<path d="M196.8 507.6H238.2V535.9H196.8Q193.2 535.9 193.2 532.3V511.2Q193.2 507.6 196.8 507.6Z" fill="#fbcd89"/>
<rect x="238" y="426.3" width="1" height="110.5" fill="#b0b0b3"/>
<path d="M207.6 466.8H224.7V494.7L221.3 495.6L207.6 494.7Z" fill="url(#bg)"/>
<rect x="207.6" y="466.8" width="17.1" height="1.7" fill="#ef8626"/>
<path d="M207.6 474.2L221.3 475.1L224.7 474.2M207.6 481.4L221.3 482.3L224.7 481.4M207.6 488.6L221.3 489.5L224.7 488.6" fill="none" stroke="#f3a05a" stroke-width="0.9" opacity="0.55"/>
<path d="M207.6 473.1L221.3 474.0L224.7 473.1M207.6 480.3L221.3 481.2L224.7 480.3M207.6 487.5L221.3 488.4L224.7 487.5" fill="none" stroke="#c9590c" stroke-width="1.25" opacity="0.92"/>
<text font-size="23.2" fill="#f4a21c" font-weight="bold" textLength="13.0" lengthAdjust="spacingAndGlyphs" text-anchor="middle" stroke="#f4a21c" stroke-width="1.5" stroke-linejoin="miter" stroke-miterlimit="2" x="216.3" y="460.4" class="n">4</text>
<text font-size="14.0" fill="#111111" textLength="30.8" lengthAdjust="spacingAndGlyphs" stroke="#111111" stroke-width="0.7" stroke-linejoin="round" stroke-miterlimit="2" transform="translate(205.0 495.8) rotate(-90)">Kerala</text>
<clipPath id="k13"><rect x="205.5" y="508.8" width="20.3" height="19.18"/><rect x="213.81" y="527.88" width="4.84" height="4.87"/></clipPath>
<text font-size="23.2" fill="#1d9a3e" font-weight="bold" textLength="12.3" lengthAdjust="spacingAndGlyphs" text-anchor="middle" stroke="#1d9a3e" stroke-width="1.5" stroke-linejoin="miter" stroke-miterlimit="2" x="215.7" y="532.0" clip-path="url(#k13)" class="n">1</text>
<path d="M250.7 507.6H292.2V535.9H250.7Q247.1 535.9 247.1 532.3V511.2Q247.1 507.6 250.7 507.6Z" fill="#fbcd89"/>
<rect x="292" y="426.3" width="1" height="110.5" fill="#b0b0b3"/>
<path d="M261.7 467.3H278.8V495.1L275.4 496.0L261.7 495.1Z" fill="url(#bg)"/>
<rect x="261.7" y="467.3" width="17.1" height="1.7" fill="#ef8626"/>
<path d="M261.7 474.7L275.4 475.6L278.8 474.7M261.7 481.9L275.4 482.8L278.8 481.9M261.7 489.0L275.4 489.9L278.8 489.0" fill="none" stroke="#f3a05a" stroke-width="0.9" opacity="0.55"/>
<path d="M261.7 473.6L275.4 474.5L278.8 473.6M261.7 480.8L275.4 481.6L278.8 480.8M261.7 487.9L275.4 488.8L278.8 487.9" fill="none" stroke="#c9590c" stroke-width="1.25" opacity="0.92"/>
<text font-size="23.2" fill="#f4a21c" font-weight="bold" textLength="13.0" lengthAdjust="spacingAndGlyphs" text-anchor="middle" stroke="#f4a21c" stroke-width="1.5" stroke-linejoin="miter" stroke-miterlimit="2" x="269.6" y="460.7" class="n">4</text>
<text font-size="14.0" fill="#111111" textLength="33.4" lengthAdjust="spacingAndGlyphs" stroke="#111111" stroke-width="0.7" stroke-linejoin="round" stroke-miterlimit="2" transform="translate(258.9 495.6) rotate(-90)">Punjab</text>
<text x="258.7" y="532.0" font-size="23.2" fill="#e2211c" font-weight="bold" stroke="#e2211c" stroke-width="1.5" stroke-linejoin="miter" stroke-miterlimit="2" class="n">-<tspan dx="1.3">4</tspan></text>
<path d="M304.6 507.6H346.2V535.9H304.6Q301.0 535.9 301.0 532.3V511.2Q301.0 507.6 304.6 507.6Z" fill="#fbcd89"/>
<rect x="346" y="435.5" width="1" height="101.3" fill="#b0b0b3"/>
<path d="M316.0 475.3H332.9V496.3L329.5 497.2L316.0 496.3Z" fill="url(#bg)"/>
<rect x="316.0" y="475.3" width="16.9" height="1.7" fill="#ef8626"/>
<path d="M316.0 482.8L329.5 483.7L332.9 482.8M316.0 490.1L329.5 491.0L332.9 490.1" fill="none" stroke="#f3a05a" stroke-width="0.9" opacity="0.55"/>
<path d="M316.0 481.7L329.5 482.6L332.9 481.7M316.0 489.0L329.5 489.9L332.9 489.0" fill="none" stroke="#c9590c" stroke-width="1.25" opacity="0.92"/>
<text font-size="23.2" fill="#f4a21c" font-weight="bold" textLength="13.0" lengthAdjust="spacingAndGlyphs" text-anchor="middle" stroke="#f4a21c" stroke-width="1.5" stroke-linejoin="miter" stroke-miterlimit="2" x="324.0" y="468.6" class="n">3</text>
<text font-size="14.0" fill="#111111" textLength="41.2" lengthAdjust="spacingAndGlyphs" stroke="#111111" stroke-width="0.7" stroke-linejoin="round" stroke-miterlimit="2" transform="translate(309.8 497.2) rotate(-90)">Haryana</text>
<text x="312.6" y="532.0" font-size="23.2" fill="#e2211c" font-weight="bold" stroke="#e2211c" stroke-width="1.5" stroke-linejoin="miter" stroke-miterlimit="2" class="n">-<tspan dx="1.3">5</tspan></text>
<path d="M356.0 507.6H398.2V535.9H356.0Q352.4 535.9 352.4 532.3V511.2Q352.4 507.6 356.0 507.6Z" fill="#fbcd89"/>
<rect x="398" y="439.5" width="1" height="97.3" fill="#b0b0b3"/>
<path d="M370.3 483.2H387.4V496.6L384.0 497.5L370.3 496.6Z" fill="url(#bg)"/>
<rect x="370.3" y="483.2" width="17.1" height="1.7" fill="#ef8626"/>
<path d="M370.3 490.6L384.0 491.5L387.4 490.6" fill="none" stroke="#f3a05a" stroke-width="0.9" opacity="0.55"/>
<path d="M370.3 489.5L384.0 490.4L387.4 489.5" fill="none" stroke="#c9590c" stroke-width="1.25" opacity="0.92"/>
<text font-size="23.2" fill="#f4a21c" font-weight="bold" textLength="13.0" lengthAdjust="spacingAndGlyphs" text-anchor="middle" stroke="#f4a21c" stroke-width="1.5" stroke-linejoin="miter" stroke-miterlimit="2" x="378.8" y="473.9" class="n">2</text>
<text font-size="14.0" fill="#111111" textLength="24.2" lengthAdjust="spacingAndGlyphs" stroke="#111111" stroke-width="0.7" stroke-linejoin="round" stroke-miterlimit="2" transform="translate(368.1 496.8) rotate(-90)">Delhi</text>
<text font-size="23.2" fill="#111111" font-weight="bold" textLength="12.3" lengthAdjust="spacingAndGlyphs" text-anchor="middle" stroke="#111111" stroke-width="1.5" stroke-linejoin="miter" stroke-miterlimit="2" x="375.3" y="532.0" class="n">0</text>
<path d="M414.1 507.6H455.2V535.9H414.1Q410.5 535.9 410.5 532.3V511.2Q410.5 507.6 414.1 507.6Z" fill="#fbcd89"/>
<rect x="455" y="442.3" width="1" height="94.5" fill="#b0b0b3"/>
<path d="M425.1 483.7H442.9V496.7L439.3 497.6L425.1 496.7Z" fill="url(#bg)"/>
<rect x="425.1" y="483.7" width="17.8" height="1.7" fill="#ef8626"/>
<path d="M425.1 490.9L439.3 491.8L442.9 490.9" fill="none" stroke="#f3a05a" stroke-width="0.9" opacity="0.55"/>
<path d="M425.1 489.8L439.3 490.6L442.9 489.8" fill="none" stroke="#c9590c" stroke-width="1.25" opacity="0.92"/>
<text font-size="23.2" fill="#f4a21c" font-weight="bold" textLength="13.0" lengthAdjust="spacingAndGlyphs" text-anchor="middle" stroke="#f4a21c" stroke-width="1.5" stroke-linejoin="miter" stroke-miterlimit="2" x="435.0" y="476.1" class="n">2</text>
<text font-size="14.0" fill="#111111" textLength="89.5" lengthAdjust="spacingAndGlyphs" stroke="#111111" stroke-width="0.7" stroke-linejoin="round" stroke-miterlimit="2" transform="translate(418.8 497.0) rotate(-90)">Himachal Pradesh</text>
<text font-size="23.2" fill="#111111" font-weight="bold" textLength="12.3" lengthAdjust="spacingAndGlyphs" text-anchor="middle" stroke="#111111" stroke-width="1.5" stroke-linejoin="miter" stroke-miterlimit="2" x="432.9" y="532.0" class="n">0</text>
<path d="M467.8 507.6H509.2V535.9H467.8Q464.2 535.9 464.2 532.3V511.2Q464.2 507.6 467.8 507.6Z" fill="#fbcd89"/>
<rect x="509" y="443.2" width="1" height="93.6" fill="#b0b0b3"/>
<path d="M480.1 484.2H497.8V497.3L494.3 498.2L480.1 497.3Z" fill="url(#bg)"/>
<rect x="480.1" y="484.2" width="17.7" height="1.7" fill="#ef8626"/>
<path d="M480.1 491.4L494.3 492.3L497.8 491.4" fill="none" stroke="#f3a05a" stroke-width="0.9" opacity="0.55"/>
<path d="M480.1 490.3L494.3 491.2L497.8 490.3" fill="none" stroke="#c9590c" stroke-width="1.25" opacity="0.92"/>
<text font-size="23.2" fill="#f4a21c" font-weight="bold" textLength="13.0" lengthAdjust="spacingAndGlyphs" text-anchor="middle" stroke="#f4a21c" stroke-width="1.5" stroke-linejoin="miter" stroke-miterlimit="2" x="488.8" y="476.1" class="n">2</text>
<text font-size="14.0" fill="#111111" textLength="60.0" lengthAdjust="spacingAndGlyphs" stroke="#111111" stroke-width="0.7" stroke-linejoin="round" stroke-miterlimit="2" transform="translate(473.7 497.0) rotate(-90)">Uttarakhand</text>
<text font-size="23.2" fill="#111111" font-weight="bold" textLength="12.3" lengthAdjust="spacingAndGlyphs" text-anchor="middle" stroke="#111111" stroke-width="1.5" stroke-linejoin="miter" stroke-miterlimit="2" x="486.7" y="532.0" class="n">0</text>
<path d="M525.2 507.6H567.2V535.9H525.2Q521.6 535.9 521.6 532.3V511.2Q521.6 507.6 525.2 507.6Z" fill="#fbcd89"/>
<rect x="567" y="451.3" width="1" height="85.5" fill="#b0b0b3"/>
<path d="M535.8 492.0H553.2V498.4L549.7 499.3L535.8 498.4Z" fill="url(#bg)"/>
<rect x="535.8" y="492.0" width="17.4" height="1.7" fill="#ef8626"/>
<clipPath id="k14"><rect x="533.2" y="461.7" width="21.0" height="19.18"/><rect x="541.76" y="480.78" width="5.00" height="4.87"/></clipPath>
<text font-size="23.2" fill="#f4a21c" font-weight="bold" textLength="13.0" lengthAdjust="spacingAndGlyphs" text-anchor="middle" stroke="#f4a21c" stroke-width="1.5" stroke-linejoin="miter" stroke-miterlimit="2" x="543.7" y="484.9" clip-path="url(#k14)" class="n">1</text>
<text font-size="14.0" fill="#111111" textLength="33.3" lengthAdjust="spacingAndGlyphs" stroke="#111111" stroke-width="0.7" stroke-linejoin="round" stroke-miterlimit="2" transform="translate(529.4 499.5) rotate(-90)">Assam</text>
<text font-size="23.2" fill="#1d9a3e" font-weight="bold" textLength="12.3" lengthAdjust="spacingAndGlyphs" text-anchor="middle" stroke="#1d9a3e" stroke-width="1.5" stroke-linejoin="miter" stroke-miterlimit="2" x="544.4" y="532.0" class="n">2</text>
<path d="M579.2 507.6H620.2V535.9H579.2Q575.6 535.9 575.6 532.3V511.2Q575.6 507.6 579.2 507.6Z" fill="#fbcd89"/>
<rect x="620" y="451.3" width="1" height="85.5" fill="#b0b0b3"/>
<path d="M591.2 492.5H609.2V499.1L605.6 500.0L591.2 499.1Z" fill="url(#bg)"/>
<rect x="591.2" y="492.5" width="18.0" height="1.7" fill="#ef8626"/>
<clipPath id="k15"><rect x="588.9" y="461.4" width="21.0" height="19.18"/><rect x="597.46" y="480.48" width="5.00" height="4.87"/></clipPath>
<text font-size="23.2" fill="#f4a21c" font-weight="bold" textLength="13.0" lengthAdjust="spacingAndGlyphs" text-anchor="middle" stroke="#f4a21c" stroke-width="1.5" stroke-linejoin="miter" stroke-miterlimit="2" x="599.4" y="484.6" clip-path="url(#k15)" class="n">1</text>
<text font-size="14.0" fill="#111111" textLength="19.5" lengthAdjust="spacingAndGlyphs" stroke="#111111" stroke-width="0.7" stroke-linejoin="round" stroke-miterlimit="2" transform="translate(587.0 500.0) rotate(-90)">Goa</text>
<text font-size="23.2" fill="#111111" font-weight="bold" textLength="12.3" lengthAdjust="spacingAndGlyphs" text-anchor="middle" stroke="#111111" stroke-width="1.5" stroke-linejoin="miter" stroke-miterlimit="2" x="597.9" y="532.0" class="n">0</text>
<path d="M639.2 507.6H680.2V535.9H639.2Q635.6 535.9 635.6 532.3V511.2Q635.6 507.6 639.2 507.6Z" fill="#fbcd89"/>
<rect x="680" y="451.3" width="1" height="85.5" fill="#b0b0b3"/>
<path d="M647.5 492.6H665.0V499.2L661.5 500.1L647.5 499.2Z" fill="url(#bg)"/>
<rect x="647.5" y="492.6" width="17.5" height="1.7" fill="#ef8626"/>
<clipPath id="k16"><rect x="646.2" y="463.0" width="21.0" height="19.18"/><rect x="654.76" y="482.08" width="5.00" height="4.87"/></clipPath>
<text font-size="23.2" fill="#f4a21c" font-weight="bold" textLength="13.0" lengthAdjust="spacingAndGlyphs" text-anchor="middle" stroke="#f4a21c" stroke-width="1.5" stroke-linejoin="miter" stroke-miterlimit="2" x="656.7" y="486.2" clip-path="url(#k16)" class="n">1</text>
<text font-size="14.0" fill="#111111" textLength="20.0" lengthAdjust="spacingAndGlyphs" stroke="#111111" stroke-width="0.7" stroke-linejoin="round" stroke-miterlimit="2" transform="translate(644.3 500.0) rotate(-90)">J&amp;K</text>
<clipPath id="k17"><rect x="642.9" y="508.8" width="29.9" height="19.18"/><rect x="646.94" y="527.88" width="7.73" height="4.87"/><rect x="660.48" y="527.88" width="4.98" height="4.87"/></clipPath>
<text x="646.9" y="532.0" font-size="23.2" fill="#e2211c" font-weight="bold" stroke="#e2211c" stroke-width="1.5" stroke-linejoin="miter" stroke-miterlimit="2" class="n" clip-path="url(#k17)">-<tspan dx="1.3">1</tspan></text>
<rect x="684.6" y="507.6" width="44.2" height="28.3" rx="3.6" fill="#fbcd89"/>
<path d="M703.8 493.2H721.6V499.8L718.0 500.7L703.8 499.8Z" fill="url(#bg)"/>
<rect x="703.8" y="493.2" width="17.8" height="1.7" fill="#ef8626"/>
<clipPath id="k18"><rect x="703.2" y="463.7" width="21.0" height="19.18"/><rect x="711.76" y="482.78" width="5.00" height="4.87"/></clipPath>
<text font-size="23.2" fill="#f4a21c" font-weight="bold" textLength="13.0" lengthAdjust="spacingAndGlyphs" text-anchor="middle" stroke="#f4a21c" stroke-width="1.5" stroke-linejoin="miter" stroke-miterlimit="2" x="713.7" y="486.9" clip-path="url(#k18)" class="n">1</text>
<text font-size="14.0" fill="#111111" textLength="35.0" lengthAdjust="spacingAndGlyphs" stroke="#111111" stroke-width="0.7" stroke-linejoin="round" stroke-miterlimit="2" transform="translate(698.8 500.0) rotate(-90)">Tripura</text>
<text font-size="23.2" fill="#111111" font-weight="bold" textLength="12.3" lengthAdjust="spacingAndGlyphs" text-anchor="middle" stroke="#111111" stroke-width="1.5" stroke-linejoin="miter" stroke-miterlimit="2" x="706.7" y="532.0" class="n">0</text>
<text font-size="13.8" fill="#1c1c1c" textLength="158.0" lengthAdjust="spacingAndGlyphs" text-anchor="middle" stroke="#1c1c1c" stroke-width="0.35" stroke-linejoin="miter" stroke-miterlimit="2" x="644.8" y="369.2">In 2019, there were six seats in</text>
<text font-size="13.8" fill="#1c1c1c" textLength="159.0" lengthAdjust="spacingAndGlyphs" text-anchor="middle" stroke="#1c1c1c" stroke-width="0.35" stroke-linejoin="miter" stroke-miterlimit="2" x="644.8" y="384.9">J&amp;K, including Ladakh. The BJP</text>
<text font-size="13.8" fill="#1c1c1c" textLength="137.0" lengthAdjust="spacingAndGlyphs" text-anchor="middle" stroke="#1c1c1c" stroke-width="0.35" stroke-linejoin="miter" stroke-miterlimit="2" x="644.8" y="400.6">had won Ladakh. This time,</text>
<text font-size="13.8" fill="#1c1c1c" textLength="166.0" lengthAdjust="spacingAndGlyphs" text-anchor="middle" stroke="#1c1c1c" stroke-width="0.35" stroke-linejoin="miter" stroke-miterlimit="2" x="644.8" y="416.3">Ladakh, a separate constituency,</text>
<text font-size="13.8" fill="#1c1c1c" textLength="144.0" lengthAdjust="spacingAndGlyphs" text-anchor="middle" stroke="#1c1c1c" stroke-width="0.35" stroke-linejoin="miter" stroke-miterlimit="2" x="644.8" y="432.0">was won by an independent.</text>
<text font-size="12.4" fill="#444444" textLength="52.4" lengthAdjust="spacingAndGlyphs" x="356.0" y="567.4">GRAPHICS</text>
<text font-size="12.4" fill="#222222" font-weight="bold" textLength="123.6" lengthAdjust="spacingAndGlyphs" x="412.4" y="567.4">SREEMANIKANDAN S./</text>
<text font-size="12.4" fill="#444444" textLength="56.0" lengthAdjust="spacingAndGlyphs" x="535.8" y="567.4">RESEARCH</text>
<text font-size="12.4" fill="#222222" font-weight="bold" textLength="139.0" lengthAdjust="spacingAndGlyphs" x="595.4" y="567.4">KARTHIK RAVINDRANATH</text>
<rect x="0" y="328" width="760" height="3.6" fill="#2a2a2a"/>
<rect x="0" y="0" width="760" height="1.2" fill="#111"/>
<rect x="0" y="0" width="1.1" height="593" fill="#111"/>
<rect x="758.6" y="0" width="1.4" height="593" fill="#111"/>
<rect x="0" y="591" width="760" height="2" fill="#111"/>
</svg>
</body>
</html>
